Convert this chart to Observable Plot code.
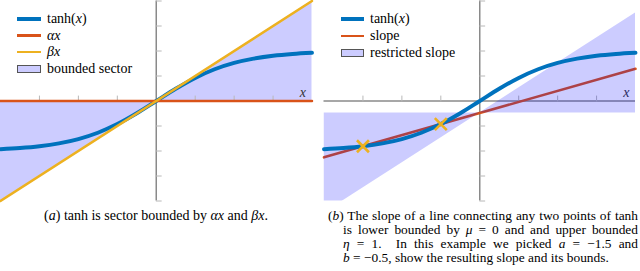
<!DOCTYPE html>
<html><head><meta charset="utf-8">
<script src="https://cdn.jsdelivr.net/npm/d3@7"></script>
<script src="https://cdn.jsdelivr.net/npm/@observablehq/plot@0.6"></script>
<style>
body{margin:0;background:#fff;}
#wrap{position:relative;width:640px;height:271px;overflow:hidden;font-family:"Liberation Serif","Times New Roman",serif;color:#000;}
.panel{position:absolute;top:0;}
.row{position:absolute;white-space:nowrap;display:flex;align-items:center;height:16px;font-size:14px;}
.sw{display:inline-block;margin-right:6px;box-sizing:border-box;}
.i{font-style:italic;}
.cap{position:absolute;font-size:14px;line-height:14px;white-space:nowrap;}
.b{font-size:13.4px;}
.just{text-align:justify;text-align-last:justify;}
</style></head>
<body><div id="wrap"></div>
<script>
// ---- data ----
const xs = [-2, -1.75, -1.5, -1.25, -1, -0.75, -0.5, -0.25, 0, 0.25, 0.5, 0.75, 1, 1.25, 1.5, 1.75, 2];
const tanhVals = [-0.964, -0.941, -0.905, -0.848, -0.762, -0.635, -0.462, -0.245, 0, 0.245, 0.462, 0.635, 0.762, 0.848, 0.905, 0.941, 0.964];
const xEnds = [-2, 2];
const alphaVals = [0, 0];      // αx, α = 0
const betaVals = [-2, 2];      // βx, β = 1
const slopeVals = [-1.126, 0.645];   // line through a and b
const muVals = [-0.24, -0.24];       // lower bound slope μ = 0
const etaVals = [-2.24, 1.76];       // upper bound slope η = 1
const pickX = [-1.5, -0.5];
const pickY = [-0.905, -0.462];
const xTicks = [-1.5, -1, -0.5, 0.5, 1, 1.5];
const yTicks = [-2, -1.5, -1, -0.5, 0.5, 1, 1.5, 2];
const leftLegend = ["tanh(x)", "αx", "βx", "bounded sector"];
const rightLegend = ["tanh(x)", "slope", "restricted slope"];

const BLUE = "#0072bd", RED = "#d95319", YEL = "#edb120";
const idx = n => d3.range(n);
const tickShape = {draw(ctx, l) { ctx.moveTo(0, 0); ctx.lineTo(0, -l); }};

function axes() {
  return [
    Plot.ruleY([0], {stroke: "#8a8a8a", strokeWidth: 1.3}),
    Plot.ruleX([0], {stroke: "#8a8a8a", strokeWidth: 1.5}),
    Plot.vector(xTicks, {x: d => d, y: 0, length: 5, rotate: 0, anchor: "start", shape: tickShape, stroke: "#b8b8b8", strokeWidth: 1}),
    Plot.vector(yTicks, {x: 0, y: d => d, length: 5, rotate: 90, anchor: "start", shape: tickShape, stroke: "#b8b8b8", strokeWidth: 1}),
    Plot.text(["x"], {x: xEnds[1], y: 0, dx: -6, dy: -8, textAnchor: "end", fontStyle: "italic", fontSize: 14, fontFamily: "Liberation Serif, serif", fill: "#333"})
  ];
}
const common = {width: 320, height: 201, marginTop: 0.5, marginBottom: 0.5,
  x: {domain: [-2, 2], axis: null}, y: {domain: [-2, 2], axis: null},
  style: {background: "transparent", overflow: "visible"}};

const left = Plot.plot({...common, marginLeft: 0, marginRight: 8.5,
  marks: [
    Plot.areaY(idx(2), {x: i => xEnds[i], y1: i => alphaVals[i], y2: i => betaVals[i], fill: "blue", fillOpacity: 0.2}),
    ...axes(),
    Plot.line(idx(xs.length), {x: i => xs[i], y: i => tanhVals[i], stroke: BLUE, strokeWidth: 3.9, curve: "monotone-x"}),
    Plot.line(idx(2), {x: i => xEnds[i], y: i => alphaVals[i], stroke: RED, strokeWidth: 2.5}),
    Plot.line(idx(2), {x: i => xEnds[i], y: i => betaVals[i], stroke: YEL, strokeWidth: 2.5})
  ]});

const right = Plot.plot({...common, marginLeft: 3.5, marginRight: 5,
  marks: [
    ...axes(),
    Plot.line(idx(2), {x: i => xEnds[i], y: i => slopeVals[i], stroke: RED, strokeWidth: 2.6}),
    Plot.areaY(idx(2), {x: i => xEnds[i], y1: i => muVals[i], y2: i => etaVals[i], fill: "blue", fillOpacity: 0.2, clip: true}),
    Plot.line(idx(xs.length), {x: i => xs[i], y: i => tanhVals[i], stroke: BLUE, strokeWidth: 3.9, curve: "monotone-x"}),
    Plot.dot(idx(2), {x: i => pickX[i], y: i => pickY[i], symbol: "times", r: 5.5, stroke: YEL, strokeWidth: 2.6})
  ]});

const wrap = document.getElementById("wrap");
function place(el, x) { const d = document.createElement("div"); d.className = "panel"; d.style.left = x + "px"; d.appendChild(el); wrap.appendChild(d); }
place(left, 0); place(right, 320);

function fmt(label) {
  if (label === "tanh(x)") return 'tanh(<span class="i">x</span>)';
  if (label === "αx") return '<span class="i">αx</span>';
  if (label === "βx") return '<span class="i">βx</span>';
  return label;
}
function legend(labels, x0, y0, dy, swW, styles) {
  labels.forEach((lab, i) => {
    const r = document.createElement("div");
    r.className = "row";
    r.style.left = x0 + "px";
    r.style.top = (y0 + i * dy - 8) + "px";
    const s = styles[i];
    const sw = s.fill
      ? `<span class="sw" style="width:${swW}px;height:8px;background:rgb(204,204,255);border:1px solid #555"></span>`
      : `<span class="sw" style="width:${swW}px;height:${s.h}px;background:${s.c}"></span>`;
    r.innerHTML = sw + `<span>${fmt(lab)}</span>`;
    wrap.appendChild(r);
  });
}
legend(leftLegend, 17, 19, 16.5, 24, [{c: BLUE, h: 3.6}, {c: RED, h: 2.4}, {c: YEL, h: 2.4}, {fill: true}]);
legend(rightLegend, 341, 19, 17, 23, [{c: BLUE, h: 3.6}, {c: RED, h: 2.4}, {fill: true}]);

function cap(html, x, y, w, cls) {
  const d = document.createElement("div");
  d.className = "cap " + (cls || "");
  d.style.left = x + "px"; d.style.top = y + "px";
  if (w) d.style.width = w + "px";
  d.innerHTML = html;
  wrap.appendChild(d);
  return d;
}
cap('(<span class="i">a</span>) tanh is sector bounded by <span class="i">αx</span> and <span class="i">βx</span>.', 0, 209, 312, "").style.textAlign = "center";
cap('(<span class="i">b</span>) The slope of a line connecting any two points of tanh', 328, 209, 310, "b just");
cap('is lower bounded by <span class="i">μ</span> = 0 and and upper bounded', 343, 223, 295, "b just");
cap('<span class="i">η</span> = 1. &nbsp;In this example we picked <span class="i">a</span> = −1.5 and', 343, 237, 295, "b just");
cap('<span class="i">b</span> = −0.5, show the resulting slope and its bounds.', 343, 251, 0, "b");
</script>
</body></html>
